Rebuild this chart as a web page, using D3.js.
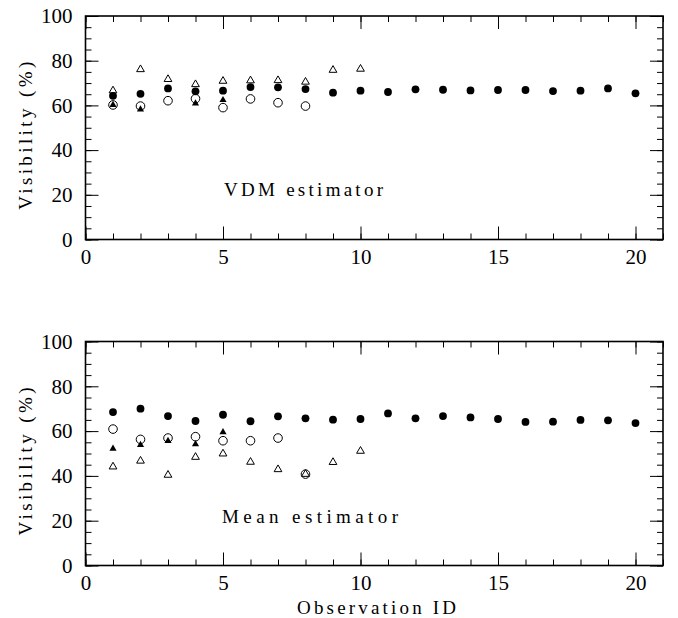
<!DOCTYPE html>
<html>
<head>
<meta charset="utf-8">
<script src="https://cdn.jsdelivr.net/npm/d3@7"></script>
<style>
  body { margin: 0; background: white; }
  svg text { font-family: "Liberation Serif", "DejaVu Serif", serif; fill: black; }
</style>
</head>
<body>
<div id="chart"></div>
<script>
// two panels of visibility per observation (VDM and mean estimators)

// observation ids
const obsAll = [1, 2, 3, 4, 5, 6, 7, 8, 9, 10, 11, 12, 13, 14, 15, 16, 17, 18, 19, 20];
const obsTen = [1, 2, 3, 4, 5, 6, 7, 8, 9, 10];
const obsEight = [1, 2, 3, 4, 5, 6, 7, 8];

// top panel : VDM estimator
const vdmFilledCircle = [64.3, 65.2, 67.6, 66.3, 66.6, 68.2, 68.1, 67.3, 65.7, 66.6, 66.0, 67.2, 67.0, 66.7, 66.9, 66.9, 66.4, 66.6, 67.6, 65.4];
const vdmOpenTriangle = [66.6, 76.1, 71.7, 69.4, 70.9, 71.1, 71.2, 70.5, 75.8, 76.3];
const vdmOpenCircle = [60.2, 59.7, 62.1, 63.0, 59.0, 62.9, 61.2, 59.7];
const vdmFilledTriObs = [1, 2, 4, 5];
const vdmFilledTriangle = [60.2, 58.2, 60.9, 62.4];

// bottom panel : mean estimator
const meanFilledCircle = [68.5, 70.0, 66.7, 64.5, 67.3, 64.4, 66.6, 65.7, 65.1, 65.4, 67.9, 65.7, 66.7, 66.1, 65.4, 64.1, 64.2, 65.0, 64.8, 63.6];
const meanOpenTriangle = [44.1, 46.7, 40.4, 48.4, 49.9, 46.2, 42.9, 40.8, 46.1, 51.1];
const meanOpenCircle = [60.9, 56.3, 56.9, 57.5, 55.7, 55.7, 56.9, 40.8];
const meanFilledTriObs = [1, 2, 3, 4, 5];
const meanFilledTriangle = [52.2, 53.8, 55.6, 54.2, 59.5];

// tick values
const xMajorTicks = [0, 5, 10, 15, 20];
const xMinorTicks = [0, 1, 2, 3, 4, 5, 6, 7, 8, 9, 10, 11, 12, 13, 14, 15, 16, 17, 18, 19, 20, 21];
const yMajorTicks = [0, 20, 40, 60, 80, 100];
const yMinorTicks = [0, 5, 10, 15, 20, 25, 30, 35, 40, 45, 50, 55, 60, 65, 70, 75, 80, 85, 90, 95, 100];

const w = 678, h = 618;
const left = 85.5, right = 663;

const svg = d3.select("#chart")
  .append("svg")
  .attr("width", w)
  .attr("height", h);

const x = d3.scaleLinear().domain([0, 21]).range([left, right]);

const zip = (ids, vals) => ids.map((id, i) => [id, vals[i]]);

function drawPanel(top, bottom, series, label, labelX, labelY, labelLen) {
  const y = d3.scaleLinear().domain([0, 100]).range([bottom, top]);
  const g = svg.append("g");

  // ticks on all four sides, pointing inward
  g.append("g").attr("transform", `translate(0,${bottom})`)
    .call(d3.axisBottom(x).tickValues(xMinorTicks).tickSize(-6).tickFormat(""));
  g.append("g").attr("transform", `translate(0,${bottom})`)
    .call(d3.axisBottom(x).tickValues(xMajorTicks).tickSize(-13).tickPadding(10))
    .call(a => a.selectAll("text").style("font-size", "21px").attr("dy", "0.71em"));
  g.append("g").attr("transform", `translate(0,${top})`)
    .call(d3.axisTop(x).tickValues(xMinorTicks).tickSize(-6).tickFormat(""));
  g.append("g").attr("transform", `translate(0,${top})`)
    .call(d3.axisTop(x).tickValues(xMajorTicks).tickSize(-13).tickFormat(""));

  g.append("g").attr("transform", `translate(${left},0)`)
    .call(d3.axisLeft(y).tickValues(yMinorTicks).tickSize(-6).tickFormat(""));
  g.append("g").attr("transform", `translate(${left},0)`)
    .call(d3.axisLeft(y).tickValues(yMajorTicks).tickSize(-13).tickPadding(13))
    .call(a => a.selectAll("text").style("font-size", "21px"));
  g.append("g").attr("transform", `translate(${right},0)`)
    .call(d3.axisRight(y).tickValues(yMinorTicks).tickSize(-6).tickFormat(""));
  g.append("g").attr("transform", `translate(${right},0)`)
    .call(d3.axisRight(y).tickValues(yMajorTicks).tickSize(-13).tickFormat(""));

  g.selectAll(".domain").remove();
  g.selectAll(".tick line").attr("stroke", "black").attr("stroke-width", 1);

  // frame
  g.append("rect")
    .attr("x", left).attr("y", top)
    .attr("width", right - left).attr("height", bottom - top)
    .attr("fill", "none").attr("stroke", "black").attr("stroke-width", 1.6);

  const tri = d3.symbol().type(d3.symbolTriangle);

  // open triangles
  g.append("g").selectAll("path")
    .data(series.openTri)
    .join("path")
      .attr("transform", d => `translate(${x(d[0])},${y(d[1])})`)
      .attr("d", tri.size(26)())
      .attr("fill", "none").attr("stroke", "black").attr("stroke-width", 1);

  // open circles
  g.append("g").selectAll("circle")
    .data(series.openCircle)
    .join("circle")
      .attr("cx", d => x(d[0])).attr("cy", d => y(d[1]))
      .attr("r", 4.3)
      .attr("fill", "none").attr("stroke", "black").attr("stroke-width", 1);

  // filled triangles
  g.append("g").selectAll("path")
    .data(series.filledTri)
    .join("path")
      .attr("transform", d => `translate(${x(d[0])},${y(d[1])})`)
      .attr("d", tri.size(22)())
      .attr("fill", "black");

  // filled circles
  g.append("g").selectAll("circle")
    .data(series.filledCircle)
    .join("circle")
      .attr("cx", d => x(d[0])).attr("cy", d => y(d[1]))
      .attr("r", 3.9)
      .attr("fill", "black");

  // estimator label
  g.append("text")
    .attr("x", labelX).attr("y", labelY)
    .attr("textLength", labelLen).attr("lengthAdjust", "spacing")
    .style("font-size", "19px")
    .text(label);

  // y axis title
  g.append("text")
    .attr("transform", `translate(32,${(top + bottom) / 2 + 8}) rotate(-90)`)
    .attr("text-anchor", "middle")
    .attr("textLength", 148).attr("lengthAdjust", "spacing")
    .style("font-size", "19px")
    .text("Visibility (%)");
}

drawPanel(16, 239.5, {
  filledCircle: zip(obsAll, vdmFilledCircle),
  openTri: zip(obsTen, vdmOpenTriangle),
  openCircle: zip(obsEight, vdmOpenCircle),
  filledTri: zip(vdmFilledTriObs, vdmFilledTriangle)
}, "VDM estimator", 224, 196, 159);

drawPanel(341.5, 565.5, {
  filledCircle: zip(obsAll, meanFilledCircle),
  openTri: zip(obsTen, meanOpenTriangle),
  openCircle: zip(obsEight, meanOpenCircle),
  filledTri: zip(meanFilledTriObs, meanFilledTriangle)
}, "Mean estimator", 222, 523, 176);

// x axis title
svg.append("text")
  .attr("x", (297 + 456) / 2).attr("y", 614)
  .attr("text-anchor", "middle")
  .attr("textLength", 159).attr("lengthAdjust", "spacing")
  .style("font-size", "19px")
  .text("Observation ID");
</script>
</body>
</html>
